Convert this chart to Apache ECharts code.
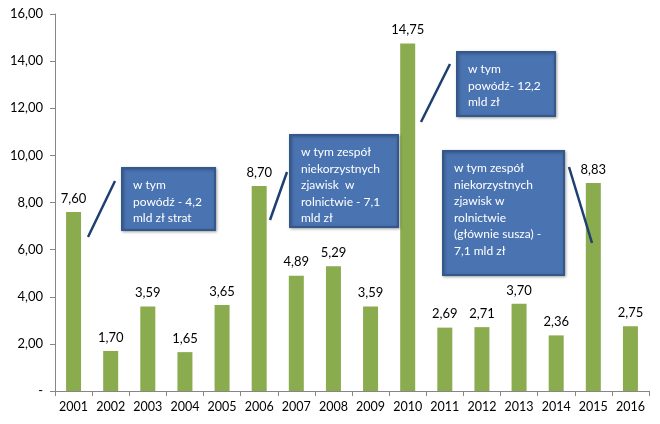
<!DOCTYPE html>
<html><head><meta charset="utf-8">
<script src="https://cdn.jsdelivr.net/npm/echarts@6/dist/echarts.min.js"></script>
<style>html,body{margin:0;padding:0;background:#fff}#c{width:660px;height:424px}</style>
</head><body><div id="c"></div>
<script>
const years = ['2001','2002','2003','2004','2005','2006','2007','2008','2009','2010','2011','2012','2013','2014','2015','2016'];
const values = [7.60,1.70,3.59,1.65,3.65,8.70,4.89,5.29,3.59,14.75,2.69,2.71,3.70,2.36,8.83,2.75];
const yTicks = [0,2,4,6,8,10,12,14,16];
const notes = [
  'w tym\npowódź - 4,2\nmld zł strat',
  'w tym zespół\nniekorzystnych\nzjawisk  w\nrolnictwie - 7,1\nmld zł',
  'w tym\npowódź- 12,2\nmld zł',
  'w tym zespół\nniekorzystnych\nzjawisk w\nrolnictwie\n(głównie susza) -\n7,1 mld zł'
];
const FONT = 'Lato, "Open Sans", sans-serif';
const fmt = v => v === 0 ? '-' : v.toFixed(2).replace('.', ',');
const boxes = [
  {x:122,y:168,w:93,h:62,note:0,line:[88,237,115,181]},
  {x:290,y:135,w:108,h:92,note:1,line:[270,220,287,172]},
  {x:457,y:52,w:98,h:64,note:2,line:[421,122,450,64]},
  {x:443,y:151,w:121,h:124,note:3,line:[569,167,592,243]}
];
const graphic = [];
boxes.forEach(b => {
  graphic.push({type:'line', shape:{x1:b.line[0],y1:b.line[1],x2:b.line[2],y2:b.line[3]}, style:{stroke:'#1f3f6e',lineWidth:2.5}, z:10});
  graphic.push({type:'rect', shape:{x:b.x,y:b.y,width:b.w,height:b.h}, style:{fill:'#4a73b2',stroke:'#35588a',lineWidth:2,shadowBlur:3,shadowColor:'rgba(0,0,0,0.3)',shadowOffsetX:1,shadowOffsetY:1}, z:10});
  graphic.push({type:'text', x:b.x+11, y:b.y+9, style:{text:notes[b.note], fill:'#fff', font:'12px ' + FONT, lineHeight:16.5}, z:11});
});
const chart = echarts.init(document.getElementById('c'));
chart.setOption({
  animation:false,
  grid:{left:55,right:11,top:14,bottom:33},
  xAxis:{type:'category',data:years,
    axisLine:{lineStyle:{color:'#868686',width:1}},
    axisTick:{show:true,length:5,interval:0,lineStyle:{color:'#868686'}},
    axisLabel:{color:'#000',fontSize:12.5,fontFamily:FONT,margin:9,interval:0}},
  yAxis:{type:'value',min:0,max:16,interval:2,
    axisLine:{show:true,lineStyle:{color:'#868686'}},
    axisTick:{show:true,length:5,lineStyle:{color:'#868686'}},
    splitLine:{show:false},
    axisLabel:{color:'#000',fontSize:13,fontFamily:FONT,margin:12,formatter:fmt}},
  series:[{type:'bar',data:values,barWidth:15,itemStyle:{color:'#8aac4e'},
    label:{show:true,position:'top',distance:7,color:'#000',fontSize:13,fontFamily:FONT,formatter:p=>fmt(p.value)}}],
  graphic:graphic
});
</script></body></html>
